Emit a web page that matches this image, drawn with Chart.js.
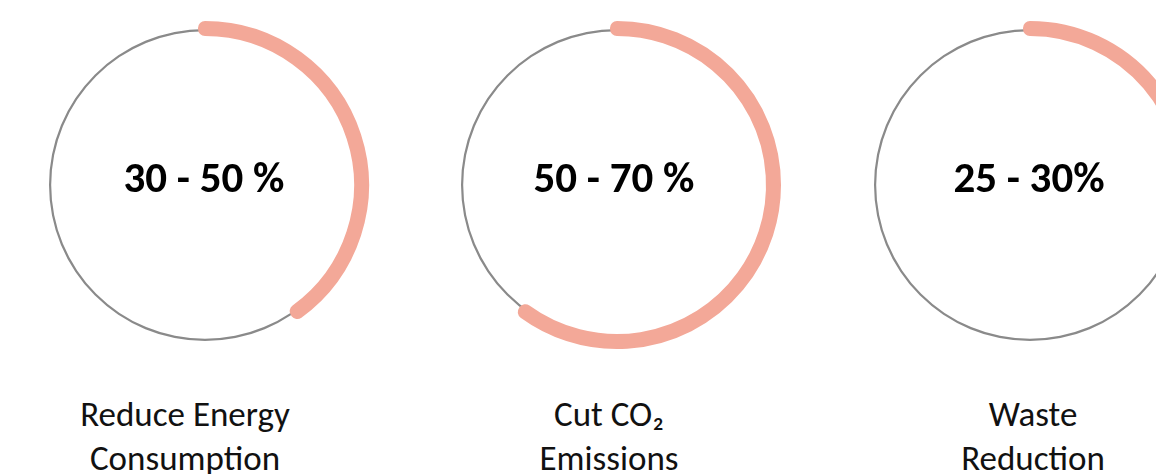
<!DOCTYPE html>
<html>
<head>
<meta charset="utf-8">
<script src="https://cdn.jsdelivr.net/npm/chart.js@4"></script>
<style>
  html, body { margin: 0; padding: 0; background: #fff; }
  body { width: 1156px; height: 474px; position: relative; overflow: hidden; font-family: Carlito, Lato, 'Open Sans', sans-serif; }
  .ring { position: absolute; top: 15px; width: 340px; height: 340px; }
  .value { position: absolute; width: 300px; text-align: center; font-weight: bold; font-size: 43px; line-height: 50px; color: #000; top: 153px; }
  .label { position: absolute; width: 300px; text-align: center; font-size: 35px; line-height: 44px; color: #111; top: 392px; }
</style>
</head>
<body>
<script>
// data
const targets = ['Reduce Energy\nConsumption', 'Cut CO\u2082\nEmissions', 'Waste\nReduction'];
const rangeLabels = ['30 - 50 %', '50 - 70 %', '25 - 30%'];
const progress = [40, 60, 27.5];

// layout (pixel centres of each ring / text block)
const ringX = [205, 617, 1030];
const valueX = [204, 614, 1029];
const labelX = [185, 609, 1033];

const ARC = 'rgb(243, 168, 152)';
const TRACK = '#8a8a8a';

targets.forEach((name, i) => {
    const canvas = document.createElement('canvas');
    canvas.className = 'ring';
    canvas.width = 340;
    canvas.height = 340;
    canvas.style.left = (ringX[i] - 170) + 'px';
    document.body.appendChild(canvas);

    new Chart(canvas, {
        type: 'doughnut',
        data: {
            labels: ['done', 'rest'],
            datasets: [
                {
                    // thin band stroked with a wide round-joined border -> round caps
                    data: [progress[i], 100 - progress[i]],
                    backgroundColor: [ARC, 'rgba(0,0,0,0)'],
                    borderColor: [ARC, 'rgba(0,0,0,0)'],
                    borderWidth: [14, 0],
                    borderJoinStyle: 'round',
                    borderAlign: 'center',
                    weight: 1
                },
                {
                    data: [100],
                    backgroundColor: [TRACK],
                    borderWidth: 0,
                    weight: 2.2
                }
            ]
        },
        options: {
            responsive: false,
            animation: false,
            events: [],
            radius: 157,
            cutout: (153.8 / 157 * 100) + '%',
            layout: { padding: 0 },
            plugins: {
                legend: { display: false },
                tooltip: { enabled: false }
            }
        }
    });

    const v = document.createElement('div');
    v.className = 'value';
    v.textContent = rangeLabels[i];
    v.style.left = (valueX[i] - 150) + 'px';
    document.body.appendChild(v);

    const l = document.createElement('div');
    l.className = 'label';
    l.innerHTML = name.split('\n').join('<br>');
    l.style.left = (labelX[i] - 150) + 'px';
    document.body.appendChild(l);
});
</script>
</body>
</html>
